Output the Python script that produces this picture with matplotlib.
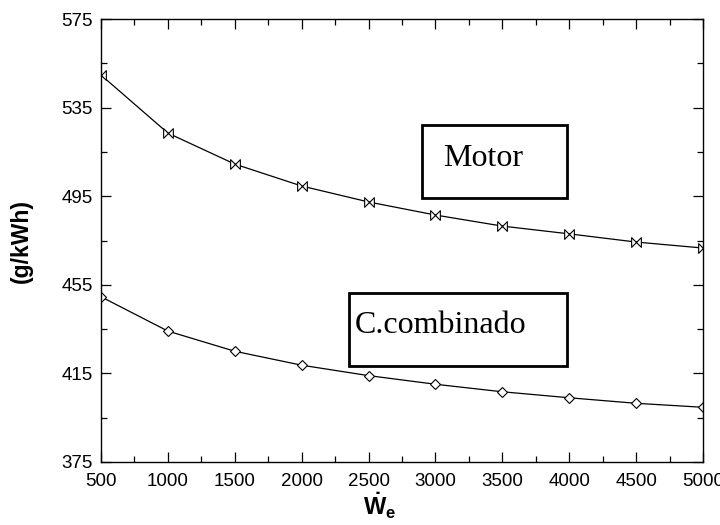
import matplotlib
matplotlib.use("Agg")
import matplotlib.pyplot as plt
from matplotlib.path import Path
from matplotlib.patches import Rectangle

# datos
potencia = [500, 1000, 1500, 2000, 2500, 3000, 3500, 4000, 4500, 5000]
consumo_motor = [549.7, 523.5, 509.5, 499.6, 492.4, 486.5, 481.5, 478.0, 474.3, 471.6]
consumo_combinado = [449.6, 434.1, 425.0, 418.7, 414.0, 410.1, 406.7, 404.0, 401.5, 399.7]
xticks = list(range(500, 5001, 500))
yticks = list(range(375, 576, 40))

plt.rcParams["font.family"] = ["Liberation Sans", "DejaVu Sans"]
plt.rcParams["mathtext.fontset"] = "custom"
plt.rcParams["mathtext.bf"] = "Liberation Sans:bold"
plt.rcParams["mathtext.rm"] = "Liberation Sans"

# marcador "pajarita" (dos triangulos enfrentados)
bowtie = Path([(-1, -1), (1, 1), (1, -1), (-1, 1), (-1, -1)],
              [Path.MOVETO, Path.LINETO, Path.LINETO, Path.LINETO, Path.CLOSEPOLY])

fig = plt.figure(figsize=(7.2, 5.25), dpi=100)
ax = fig.add_axes([0.1403, 0.12, 0.8361, 0.8438])

ax.plot(potencia, consumo_motor, "-", color="black", lw=0.9,
        marker=bowtie, ms=7, mfc="white", mec="black", mew=0.8)
ax.plot(potencia, consumo_combinado, "-", color="black", lw=0.9,
        marker="D", ms=5.5, mfc="white", mec="black", mew=0.8)

ax.set_xlim(500, 5000)
ax.set_ylim(375, 575)
ax.set_xticks(xticks)
ax.set_yticks(yticks)
ax.set_xticks(range(750, 5000, 500), minor=True)
ax.set_yticks(range(395, 575, 40), minor=True)
ax.tick_params(which="both", direction="in", top=True, right=True,
               labelsize=13.5, width=0.9)
ax.tick_params(axis="x", pad=8)
ax.tick_params(axis="y", pad=6)
ax.tick_params(which="major", length=7)
ax.tick_params(which="minor", length=4.5)
for s in ax.spines.values():
    s.set_linewidth(1.0)

ax.set_ylabel("(g/kWh)", fontsize=16.5, fontweight="bold")
ax.yaxis.set_label_coords(-0.113, 0.5)
ax.set_xlabel(r"$\mathbf{\dot{W}_e}$", fontsize=17)
ax.xaxis.set_label_coords(0.463, -0.066)

# cajas de texto
ax.add_patch(Rectangle((2900, 494.2), 1083, 32.9, fill=False,
                       lw=2.0, ec="black", zorder=5))
ax.text(3056, 508.8, "Motor", family="Liberation Serif", fontsize=23,
        va="baseline", ha="left", zorder=6)
ax.add_patch(Rectangle((2354, 418.3), 1629, 33, fill=False,
                       lw=2.0, ec="black", zorder=5))
ax.text(2399, 433.2, "C.combinado", family="Liberation Serif", fontsize=23,
        va="baseline", ha="left", zorder=6)

fig.savefig("out.png", dpi=100)
